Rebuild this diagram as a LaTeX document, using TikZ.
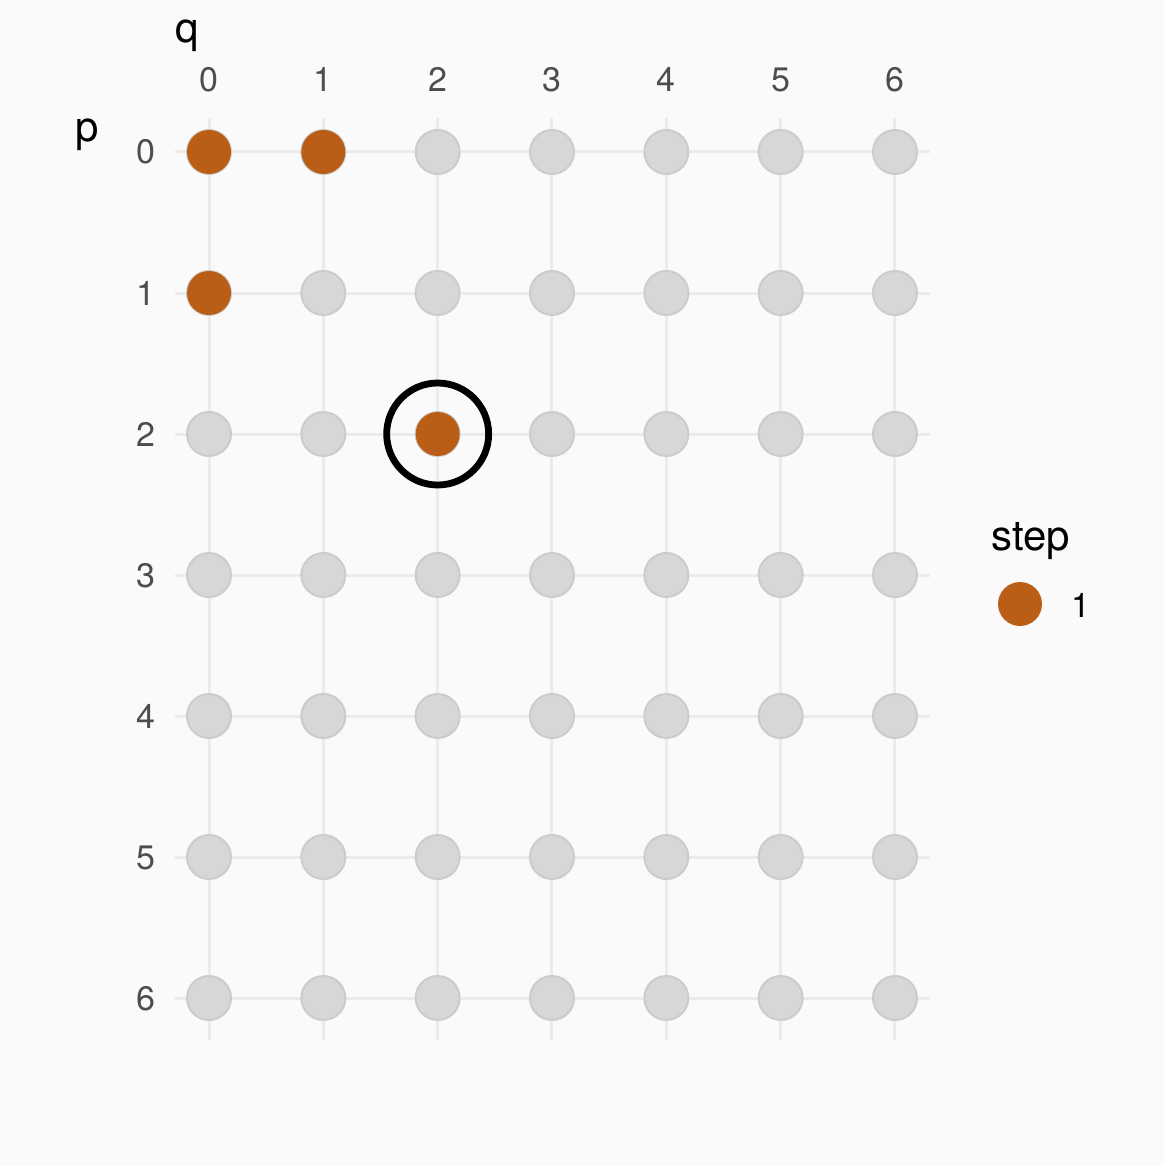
\documentclass[tikz,border=0pt]{standalone}
\usepackage{fontspec}
\setmainfont{TeX Gyre Heros}

\definecolor{panelbg}{HTML}{FAFAFA}
\definecolor{gridc}{HTML}{EBEBEB}
\definecolor{dotfill}{HTML}{D7D7D7}
\definecolor{dotedge}{HTML}{CCCCCC}
\definecolor{stepc}{HTML}{BA5E17}
\definecolor{ticktext}{HTML}{4D4D4D}

\begin{document}
\begin{tikzpicture}[x=0.5pt, y=-0.5pt,
  gridline/.style={draw=gridc, line width=1.5pt},
  celldot/.style={circle, fill=dotfill, draw=dotedge, line width=1pt, minimum size=22pt, inner sep=0pt},
  hitdot/.style={circle, fill=stepc, minimum size=22pt, inner sep=0pt},
  ring/.style={circle, draw=black, line width=3.4pt, minimum size=51pt, inner sep=0pt},
  ticklabel/.style={text=ticktext, font=\fontsize{17}{20}\selectfont, anchor=base},
  axtitle/.style={font=\fontsize{21}{25}\selectfont, anchor=base}]

\fill[panelbg] (0,0) rectangle (1164,1166);
\useasboundingbox (0,0) rectangle (1164,1166);

% panel grid
\foreach \q in {0,...,6}
  \draw[gridline] ({209+114.33*\q},118) -- ({209+114.33*\q},1040);
\foreach \p in {0,...,6}
  \draw[gridline] (175,{152+141*\p}) -- (930,{152+141*\p});

% all cells
\foreach \p in {0,...,6}
  \foreach \q in {0,...,6}
    \node[celldot] (dot-\p-\q) at ({209+114.33*\q},{152+141*\p}) {};

% axis labels
\foreach \q in {0,...,6}
  \node[ticklabel] (qlab-\q) at ({209+114.33*\q},92) {\q};
\foreach \p in {0,...,6}
  \node[ticklabel] (plab-\p) at (146,{164+141*\p}) {\p};
\node[axtitle] (qtitle) at (187,43) {q};
\node[axtitle] (ptitle) at (87,142) {p};

% visited cells
\foreach \p/\q in {0/0, 0/1, 1/0, 2/2}
  \node[hitdot] (hit-\p-\q) at (dot-\p-\q) {};
\node[ring] (current) at (dot-2-2) {};

% legend
\node[axtitle, anchor=base west, inner sep=0pt] (legtitle) at (991,550) {step};
\node[hitdot] (legdot) at (1020,604) {};
\node[font=\fontsize{17}{20}\selectfont, anchor=west, inner sep=0pt] (legone) at (1071,605) {1};

\end{tikzpicture}
\end{document}
